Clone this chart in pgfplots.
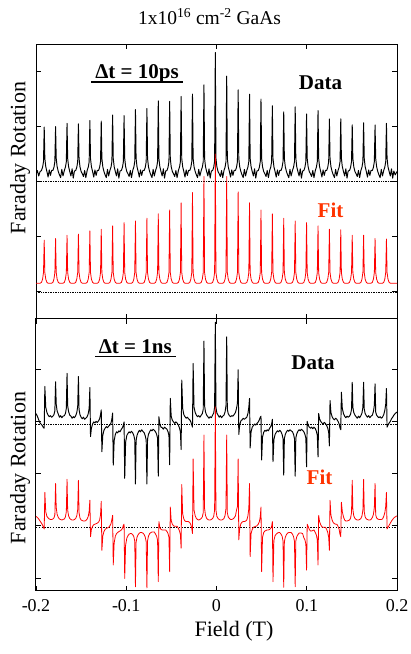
\documentclass[border=0pt]{standalone}
\usepackage{pgfplots}
\usepackage{pgfplotstable}
\pgfplotsset{compat=1.18}
\usepackage{fontspec}
\setmainfont{Liberation Serif}
\definecolor{fitlabel}{RGB}{255,51,0}

\pgfplotstableread{
x td tf bd bf
-0.2000 2.63 0.645 3.40 1.43
-0.1985 2.70 0.645 3.35 1.41
-0.1970 2.60 0.645 3.28 1.38
-0.1955 2.68 0.645 3.22 1.34
-0.1939 2.70 0.66 3.19 1.30
-0.1927 2.76 0.72 3.16 1.26
-0.1917 2.86 0.84 3.13 1.22
-0.1909 3.49 1.43 3.12 1.19
-0.1902 2.92 0.84 3.92 1.89
-0.1892 2.77 0.72 3.52 1.52
-0.1879 2.68 0.66 3.42 1.43
-0.1866 2.58 0.645 3.37 1.40
-0.1853 2.71 0.645 3.34 1.38
-0.1840 2.61 0.645 3.36 1.37
-0.1827 2.70 0.645 3.33 1.37
-0.1813 2.70 0.66 3.35 1.38
-0.1801 2.76 0.72 3.38 1.40
-0.1791 2.86 0.84 3.45 1.46
-0.1783 3.50 1.46 4.01 2.06
-0.1776 2.92 0.84 3.58 1.60
-0.1766 2.77 0.72 3.45 1.47
-0.1753 2.68 0.66 3.39 1.41
-0.1740 2.62 0.645 3.33 1.38
-0.1727 2.57 0.645 3.36 1.37
-0.1714 2.72 0.645 3.32 1.36
-0.1701 2.60 0.645 3.35 1.37
-0.1686 2.70 0.66 3.36 1.38
-0.1674 2.76 0.72 3.40 1.42
-0.1664 2.86 0.84 3.50 1.52
-0.1656 3.56 1.52 4.17 2.14
-0.1649 2.92 0.84 3.55 1.55
-0.1639 2.77 0.72 3.44 1.44
-0.1626 2.68 0.66 3.37 1.39
-0.1613 2.60 0.645 3.35 1.37
-0.1600 2.73 0.645 3.31 1.36
-0.1587 2.56 0.645 3.34 1.36
-0.1574 2.69 0.645 3.32 1.37
-0.1560 2.70 0.66 3.36 1.39
-0.1548 2.76 0.72 3.42 1.44
-0.1538 2.86 0.84 3.53 1.56
-0.1530 3.55 1.54 4.11 2.12
-0.1523 2.92 0.84 3.48 1.50
-0.1513 2.77 0.72 3.38 1.40
-0.1500 2.68 0.66 3.33 1.36
-0.1487 2.64 0.645 3.30 1.35
-0.1474 2.59 0.645 3.33 1.34
-0.1461 2.70 0.645 3.29 1.34
-0.1448 2.57 0.645 3.31 1.35
-0.1433 2.70 0.66 3.34 1.38
-0.1421 2.76 0.72 3.40 1.43
-0.1411 2.86 0.84 3.50 1.53
-0.1403 3.61 1.60 3.90 1.74
-0.1396 2.92 0.84 2.96 1.04
-0.1386 2.77 0.72 3.12 1.18
-0.1373 2.68 0.66 3.20 1.24
-0.1360 2.58 0.645 3.24 1.27
-0.1347 2.71 0.645 3.22 1.28
-0.1334 2.61 0.645 3.25 1.29
-0.1321 2.70 0.645 3.23 1.30
-0.1307 2.70 0.66 3.26 1.32
-0.1295 2.76 0.72 3.30 1.36
-0.1285 2.86 0.84 3.38 1.46
-0.1277 3.60 1.63 3.47 1.72
-0.1270 2.92 0.84 2.67 0.78
-0.1260 2.77 0.72 2.98 1.05
-0.1247 2.68 0.66 3.08 1.14
-0.1234 2.62 0.645 3.12 1.18
-0.1221 2.57 0.645 3.15 1.20
-0.1208 2.72 0.645 3.13 1.21
-0.1195 2.60 0.645 3.16 1.22
-0.1181 2.70 0.66 3.18 1.25
-0.1169 2.76 0.72 3.22 1.29
-0.1159 2.86 0.84 3.30 1.37
-0.1151 3.71 1.69 3.41 1.45
-0.1144 2.92 0.84 2.41 0.50
-0.1134 2.77 0.72 2.88 0.92
-0.1121 2.68 0.66 3.00 1.05
-0.1108 2.60 0.645 3.05 1.10
-0.1095 2.73 0.645 3.03 1.12
-0.1082 2.56 0.645 3.07 1.14
-0.1069 2.69 0.645 3.05 1.15
-0.1054 2.70 0.66 3.10 1.17
-0.1042 2.76 0.72 3.13 1.20
-0.1032 2.86 0.84 3.18 1.26
-0.1024 3.70 1.75 3.24 1.28
-0.1017 2.92 0.84 2.16 0.24
-0.1007 2.77 0.72 2.85 0.88
-0.0994 2.68 0.66 2.98 1.01
-0.0981 2.64 0.645 3.02 1.06
-0.0968 2.59 0.645 3.05 1.09
-0.0955 2.70 0.645 3.03 1.10
-0.0942 2.57 0.645 3.06 1.10
-0.0928 2.70 0.66 3.03 1.08
-0.0916 2.76 0.72 2.98 1.04
-0.0906 2.86 0.84 2.90 0.96
-0.0898 3.81 1.78 2.05 0.08
-0.0891 2.92 0.84 2.88 0.93
-0.0881 2.77 0.72 2.98 1.03
-0.0868 2.68 0.66 3.04 1.08
-0.0855 2.58 0.645 3.08 1.11
-0.0842 2.71 0.645 3.05 1.12
-0.0829 2.61 0.645 3.09 1.12
-0.0816 2.70 0.645 3.06 1.11
-0.0801 2.70 0.66 3.03 1.08
-0.0789 2.76 0.72 2.97 1.03
-0.0779 2.86 0.84 2.89 0.94
-0.0771 3.83 1.83 2.05 0.06
-0.0764 2.92 0.84 2.91 0.96
-0.0754 2.77 0.72 3.00 1.05
-0.0741 2.68 0.66 3.05 1.10
-0.0728 2.62 0.645 3.09 1.12
-0.0715 2.57 0.645 3.07 1.13
-0.0702 2.72 0.645 3.10 1.13
-0.0689 2.60 0.645 3.08 1.13
-0.0675 2.70 0.66 3.05 1.09
-0.0663 2.76 0.72 3.00 1.05
-0.0653 2.86 0.84 2.93 0.97
-0.0645 3.97 1.91 2.20 0.18
-0.0638 2.92 0.84 3.34 1.33
-0.0628 2.77 0.72 3.20 1.22
-0.0615 2.68 0.66 3.14 1.18
-0.0602 2.60 0.645 3.13 1.17
-0.0589 2.73 0.645 3.10 1.17
-0.0576 2.56 0.645 3.14 1.17
-0.0563 2.69 0.645 3.12 1.17
-0.0549 2.70 0.66 3.10 1.14
-0.0537 2.76 0.72 3.05 1.10
-0.0527 2.86 0.84 2.98 1.03
-0.0519 3.96 1.98 2.42 0.37
-0.0512 2.92 0.84 3.69 1.61
-0.0502 2.77 0.72 3.35 1.35
-0.0489 2.68 0.66 3.27 1.28
-0.0476 2.64 0.645 3.24 1.25
-0.0463 2.59 0.645 3.21 1.24
-0.0450 2.70 0.645 3.24 1.24
-0.0437 2.57 0.645 3.22 1.24
-0.0422 2.70 0.66 3.18 1.20
-0.0410 2.76 0.72 3.12 1.15
-0.0400 2.86 0.84 3.05 1.08
-0.0392 4.05 2.11 2.71 0.82
-0.0385 2.92 0.84 4.04 2.04
-0.0375 2.77 0.72 3.50 1.48
-0.0362 2.68 0.66 3.38 1.38
-0.0349 2.58 0.645 3.34 1.34
-0.0336 2.71 0.645 3.31 1.33
-0.0323 2.61 0.645 3.33 1.33
-0.0310 2.70 0.645 3.30 1.33
-0.0296 2.70 0.66 3.28 1.31
-0.0284 2.76 0.72 3.24 1.27
-0.0274 2.86 0.84 3.18 1.20
-0.0266 4.09 2.30 3.14 1.10
-0.0259 2.92 0.84 4.36 2.53
-0.0249 2.77 0.72 3.52 1.55
-0.0236 2.68 0.66 3.42 1.44
-0.0223 2.62 0.645 3.37 1.39
-0.0210 2.57 0.645 3.34 1.37
-0.0197 2.72 0.645 3.36 1.36
-0.0184 2.60 0.645 3.33 1.37
-0.0169 2.70 0.66 3.37 1.39
-0.0157 2.76 0.72 3.40 1.42
-0.0147 2.86 0.84 3.48 1.50
-0.0139 4.26 2.59 4.79 2.99
-0.0132 2.92 0.84 3.55 1.58
-0.0122 2.77 0.72 3.43 1.45
-0.0109 2.68 0.66 3.37 1.39
-0.0096 2.60 0.645 3.34 1.37
-0.0083 2.73 0.645 3.31 1.36
-0.0070 2.56 0.645 3.34 1.36
-0.0057 2.69 0.645 3.32 1.37
-0.0043 2.70 0.66 3.37 1.39
-0.0031 2.76 0.72 3.41 1.43
-0.0021 2.86 0.84 3.52 1.55
-0.0013 4.85 3.00 5.15 3.53
-0.0006 2.92 0.84 3.52 1.55
0.0004 2.77 0.72 3.41 1.43
0.0017 2.68 0.66 3.37 1.39
0.0030 2.64 0.645 3.33 1.37
0.0043 2.59 0.645 3.36 1.36
0.0056 2.70 0.645 3.32 1.36
0.0069 2.57 0.645 3.35 1.37
0.0083 2.70 0.66 3.37 1.39
0.0095 2.76 0.72 3.43 1.45
0.0105 2.86 0.84 3.55 1.58
0.0113 4.42 2.59 4.87 2.99
0.0120 2.92 0.84 3.48 1.50
0.0130 2.77 0.72 3.40 1.42
0.0143 2.68 0.66 3.36 1.39
0.0156 2.58 0.645 3.34 1.37
0.0169 2.71 0.645 3.36 1.37
0.0182 2.61 0.645 3.35 1.38
0.0195 2.70 0.645 3.38 1.40
0.0210 2.70 0.66 3.42 1.44
0.0222 2.76 0.72 3.50 1.55
0.0232 2.86 0.84 3.60 1.62
0.0240 4.17 2.31 4.24 2.53
0.0247 2.92 0.84 3.00 0.98
0.0257 2.77 0.72 3.18 1.20
0.0270 2.68 0.66 3.26 1.29
0.0283 2.62 0.645 3.28 1.32
0.0296 2.57 0.645 3.31 1.33
0.0309 2.72 0.645 3.29 1.33
0.0322 2.60 0.645 3.31 1.34
0.0336 2.70 0.66 3.33 1.36
0.0348 2.76 0.72 3.40 1.44
0.0358 2.86 0.84 3.52 1.58
0.0366 4.09 2.11 3.69 2.06
0.0373 2.92 0.84 2.74 0.66
0.0383 2.77 0.72 3.05 1.10
0.0396 2.68 0.66 3.14 1.18
0.0409 2.60 0.645 3.17 1.22
0.0422 2.73 0.645 3.20 1.23
0.0435 2.56 0.645 3.18 1.24
0.0448 2.69 0.645 3.21 1.25
0.0463 2.70 0.66 3.24 1.28
0.0475 2.76 0.72 3.28 1.33
0.0485 2.86 0.84 3.33 1.42
0.0493 4.00 1.98 3.35 1.61
0.0500 2.92 0.84 2.51 0.37
0.0510 2.77 0.72 2.95 1.03
0.0523 2.68 0.66 3.04 1.12
0.0536 2.64 0.645 3.08 1.15
0.0549 2.59 0.645 3.06 1.16
0.0562 2.70 0.645 3.09 1.17
0.0575 2.57 0.645 3.07 1.17
0.0589 2.70 0.66 3.12 1.18
0.0601 2.76 0.72 3.15 1.20
0.0611 2.86 0.84 3.20 1.24
0.0619 3.88 1.91 3.29 1.33
0.0626 2.92 0.84 2.48 0.18
0.0636 2.77 0.72 2.90 0.97
0.0649 2.68 0.66 3.00 1.06
0.0662 2.58 0.645 3.04 1.09
0.0675 2.71 0.645 3.07 1.11
0.0688 2.61 0.645 3.05 1.12
0.0701 2.70 0.645 3.08 1.12
0.0715 2.70 0.66 3.05 1.09
0.0727 2.76 0.72 3.00 1.05
0.0737 2.86 0.84 2.92 0.96
0.0745 3.77 1.83 2.22 0.07
0.0752 2.92 0.84 2.92 0.94
0.0762 2.77 0.72 3.00 1.03
0.0775 2.68 0.66 3.05 1.08
0.0788 2.62 0.645 3.08 1.11
0.0801 2.57 0.645 3.06 1.12
0.0814 2.72 0.645 3.09 1.12
0.0827 2.60 0.645 3.07 1.12
0.0842 2.70 0.66 3.05 1.09
0.0854 2.76 0.72 3.00 1.04
0.0864 2.86 0.84 2.92 0.95
0.0872 3.86 1.78 2.20 0.08
0.0879 2.92 0.84 2.93 0.96
0.0889 2.77 0.72 3.01 1.04
0.0902 2.68 0.66 3.06 1.08
0.0915 2.60 0.645 3.09 1.11
0.0928 2.73 0.645 3.07 1.11
0.0941 2.56 0.645 3.10 1.11
0.0954 2.69 0.645 3.08 1.10
0.0968 2.70 0.66 3.05 1.02
0.0980 2.76 0.72 3.00 0.98
0.0990 2.86 0.84 2.93 0.90
0.0998 3.73 1.75 2.38 0.40
0.1005 2.92 0.84 3.25 1.28
0.1015 2.77 0.72 3.18 1.24
0.1028 2.68 0.66 3.14 1.18
0.1041 2.64 0.645 3.12 1.15
0.1054 2.59 0.645 3.14 1.15
0.1067 2.70 0.645 3.11 1.16
0.1080 2.57 0.645 3.14 1.17
0.1095 2.70 0.66 3.11 1.12
0.1107 2.76 0.72 3.06 1.07
0.1117 2.86 0.84 2.98 0.98
0.1125 3.79 1.69 2.57 0.50
0.1132 2.92 0.84 3.40 1.45
0.1142 2.77 0.72 3.30 1.33
0.1155 2.68 0.66 3.25 1.27
0.1168 2.58 0.645 3.22 1.23
0.1181 2.71 0.645 3.20 1.22
0.1194 2.61 0.645 3.23 1.22
0.1207 2.70 0.645 3.21 1.22
0.1221 2.70 0.66 3.17 1.18
0.1233 2.76 0.72 3.12 1.12
0.1243 2.86 0.84 3.04 1.03
0.1251 3.64 1.63 2.78 0.78
0.1258 2.92 0.84 3.65 1.74
0.1268 2.77 0.72 3.42 1.45
0.1281 2.68 0.66 3.34 1.36
0.1294 2.62 0.645 3.30 1.31
0.1307 2.57 0.645 3.28 1.29
0.1320 2.72 0.645 3.31 1.28
0.1333 2.60 0.645 3.29 1.28
0.1347 2.70 0.66 3.25 1.24
0.1359 2.76 0.72 3.20 1.18
0.1369 2.86 0.84 3.12 1.08
0.1377 3.64 1.62 3.09 1.04
0.1384 2.92 0.84 3.81 1.70
0.1394 2.77 0.72 3.50 1.52
0.1407 2.68 0.66 3.40 1.42
0.1420 2.60 0.645 3.35 1.36
0.1433 2.73 0.645 3.32 1.34
0.1446 2.56 0.645 3.35 1.34
0.1459 2.69 0.645 3.33 1.35
0.1474 2.70 0.66 3.35 1.36
0.1486 2.76 0.72 3.39 1.40
0.1496 2.86 0.84 3.48 1.50
0.1504 3.53 1.52 4.00 2.12
0.1511 2.92 0.84 3.52 1.56
0.1521 2.77 0.72 3.42 1.44
0.1534 2.68 0.66 3.37 1.39
0.1547 2.64 0.645 3.34 1.37
0.1560 2.59 0.645 3.31 1.36
0.1573 2.70 0.645 3.35 1.36
0.1586 2.57 0.645 3.32 1.37
0.1600 2.70 0.66 3.36 1.39
0.1612 2.76 0.72 3.41 1.44
0.1622 2.86 0.84 3.52 1.55
0.1630 3.57 1.52 4.00 2.14
0.1637 2.92 0.84 3.49 1.52
0.1647 2.77 0.72 3.40 1.42
0.1660 2.68 0.66 3.36 1.38
0.1673 2.58 0.645 3.33 1.37
0.1686 2.71 0.645 3.36 1.36
0.1699 2.61 0.645 3.32 1.36
0.1712 2.70 0.645 3.35 1.37
0.1727 2.70 0.66 3.37 1.41
0.1739 2.76 0.72 3.44 1.47
0.1749 2.86 0.84 3.56 1.60
0.1757 3.53 1.46 3.97 2.06
0.1764 2.92 0.84 3.43 1.46
0.1774 2.77 0.72 3.37 1.40
0.1787 2.68 0.66 3.34 1.38
0.1800 2.62 0.645 3.32 1.37
0.1813 2.57 0.645 3.34 1.37
0.1826 2.72 0.645 3.31 1.37
0.1839 2.60 0.645 3.33 1.38
0.1853 2.70 0.66 3.38 1.43
0.1865 2.76 0.72 3.46 1.50
0.1875 2.86 0.84 3.58 1.62
0.1883 3.56 1.45 3.88 1.89
0.1890 2.92 0.84 3.14 1.19
0.1900 2.77 0.72 3.18 1.22
0.1913 2.68 0.66 3.22 1.26
0.1926 2.60 0.645 3.25 1.30
0.1939 2.73 0.645 3.30 1.34
0.1952 2.56 0.645 3.33 1.37
0.1965 2.69 0.645 3.37 1.40
0.1980 2.62 0.645 3.40 1.42
0.2000 2.68 0.645 3.43 1.44
}\faraday

\begin{document}
\begin{tikzpicture}
\path[use as bounding box] (0pt,0pt) rectangle (411pt,654pt);
\pgfplotsset{
  panel/.style={
    scale only axis, width=361pt, anchor=south west,
    xmin=-0.2, xmax=0.2,
    xtick={-0.2,-0.1,0,0.1,0.2},
    tick align=inside,
    major tick length=5pt,
    tick style={black, line width=0.8pt},
    axis line style={line width=1pt},
    yticklabels={},
  }
}
\begin{axis}[panel, at={(36pt,335.4pt)}, height=274.3pt,
  ymin=0, ymax=5, ytick={0.5,1.5,2.5,3.5,4.5}, xticklabels={}]
\addplot[black, densely dotted, line width=0.7pt] coordinates {(-0.2,2.50) (0.2,2.50)};
\addplot[black, densely dotted, line width=0.7pt] coordinates {(-0.2,0.48) (0.2,0.48)};
\addplot[black, line width=0.95pt, line join=round] table[x=x,y=td]{\faraday};
\addplot[red, line width=0.8pt, line join=round] table[x=x,y=tf]{\faraday};
\end{axis}
\begin{axis}[panel, at={(36pt,63pt)}, height=272.4pt,
  ymin=0, ymax=5.22, ytick={0.25,1.25,2.25,3.25,4.25},
  xticklabels={-0.2,-0.1,0,0.1,0.2},
  xticklabel style={font=\fontsize{18}{18}\selectfont, yshift=-5pt}]
\addplot[black, densely dotted, line width=0.7pt] coordinates {(-0.2,3.19) (0.2,3.19)};
\addplot[black, line width=1.1pt, dash pattern=on 1.4pt off 1.4pt] coordinates {(-0.2,1.21) (0.2,1.21)};
\addplot[black, line width=0.95pt, line join=round] table[x=x,y=bd]{\faraday};
\addplot[red, line width=0.8pt, line join=round] table[x=x,y=bf]{\faraday};
\end{axis}
% titles and labels
\node[font=\fontsize{19.5}{19.5}\selectfont, anchor=base] at (209.5pt,629pt) {1x10\textsuperscript{16} cm\textsuperscript{-2} GaAs};
\node[font=\fontsize{22}{22}\selectfont, rotate=90] at (20pt,496pt) {Faraday Rotation};
\node[font=\fontsize{22}{22}\selectfont, rotate=90] at (20pt,186pt) {Faraday Rotation};
\node[font=\fontsize{22}{22}\selectfont, anchor=base] at (234pt,17pt) {Field (T)};
% panel annotations
\node[font=\bfseries\fontsize{21}{21}\selectfont, anchor=base] at (137pt,575pt) {Δt = 10ps};
\draw[line width=1.2pt] (91pt,572pt) -- (183pt,572pt);
\node[font=\bfseries\fontsize{21}{21}\selectfont, anchor=base] at (320.5pt,564pt) {Data};
\node[font=\bfseries\fontsize{21}{21}\selectfont, anchor=base, text=fitlabel] at (330.5pt,436pt) {Fit};
\node[font=\bfseries\fontsize{21}{21}\selectfont, anchor=base] at (135.3pt,300.7pt) {Δt = 1ns};
\draw[line width=1.2pt] (95pt,297.3pt) -- (175.7pt,297.3pt);
\node[font=\bfseries\fontsize{21}{21}\selectfont, anchor=base] at (313pt,284pt) {Data};
\node[font=\bfseries\fontsize{21}{21}\selectfont, anchor=base, text=fitlabel] at (319.5pt,169pt) {Fit};
\end{tikzpicture}
\end{document}
